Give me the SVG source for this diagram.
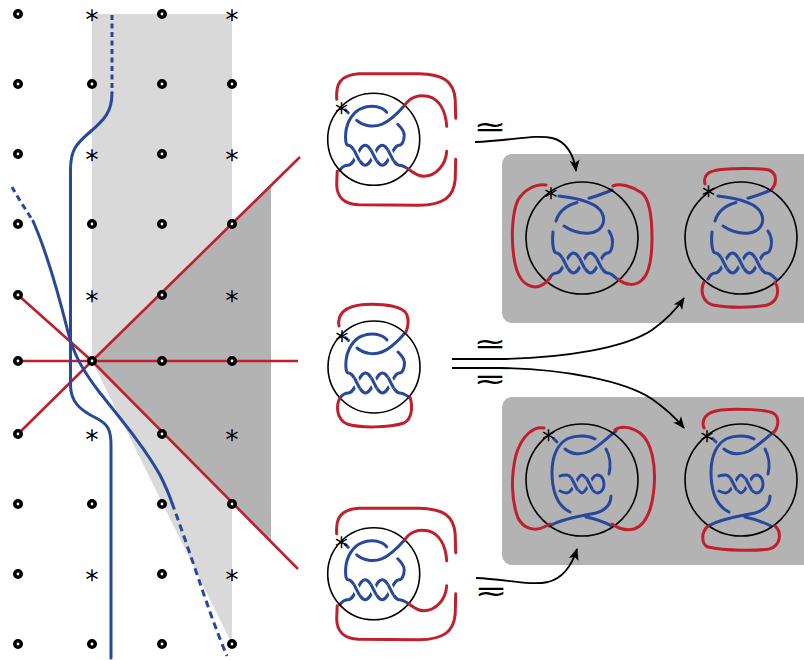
<svg xmlns="http://www.w3.org/2000/svg" width="804" height="660" viewBox="0 0 804 660">
<defs>
<style>
.dot{fill:#fff;stroke:#000;stroke-width:3.6}
.ast{font-family:"DejaVu Sans",sans-serif;font-weight:200;font-size:25px;text-anchor:middle;fill:#000;stroke:#000;stroke-width:0.7}
.sym{font-family:"DejaVu Sans",sans-serif;font-size:27px;text-anchor:middle;fill:#000}
.r{fill:none;stroke:#c0202e;stroke-width:3;stroke-linecap:round}
.rl{fill:none;stroke:#c0202e;stroke-width:2.6}
.b{fill:none;stroke:#27489b;stroke-width:3;stroke-linecap:round}
.bd{fill:none;stroke:#27489b;stroke-width:3}
.bo{fill:none;stroke:#27489b;stroke-width:3}
.h{fill:none;stroke:currentColor;stroke-width:7}
.disk{fill:none;stroke:#000;stroke-width:1.6}
.ar{fill:none;stroke:#000;stroke-width:1.8}
</style>
<marker id="ah" viewBox="-12 -6 13 12" refX="0" refY="0" markerWidth="13" markerHeight="12" markerUnits="userSpaceOnUse" orient="auto">
<path d="M1,0 L-11,-5 L-8,0 L-11,5 Z" fill="#000"/>
</marker>
<g id="t1">
<path class="b" d="M-28.5,-29.5 L-25.5,-26.5"/>
<path class="b" d="M-17,-19 C-10,-13 0,-12 8,-15 C16,-18 24,-26 31,-34"/>
<path class="b" d="M13,-27 C8,-33 -3,-35 -12,-31 C-20,-28 -27,-18 -28,-6 C-28.5,0 -28,6 -25.5,6 C-18.7,6 -15.3,26 -8.5,26 C-1.7,26 1.7,6 8.5,6 C15.3,6 18.7,26 25.5,26 C29,26 32,28 35,30"/>
<path class="b" d="M-34,31 C-32,28 -29,26 -25.5,26 C-18.7,26 -15.3,6 -8.5,6 C-1.7,6 1.7,26 8.5,26 C15.3,26 18.7,6 25.5,6 C28.5,6 30.5,1 30.5,-4 C30.5,-9 27,-12 24,-15"/>
<path class="h" d="M-19.7,10.7 L-14.3,21.3"/><path class="bo" d="M-19.7,10.7 L-14.3,21.3"/>
<path class="h" d="M-2.7,10.7 L2.7,21.3"/><path class="bo" d="M-2.7,10.7 L2.7,21.3"/>
<path class="h" d="M14.3,10.7 L19.7,21.3"/><path class="bo" d="M14.3,10.7 L19.7,21.3"/>
</g>
<g id="t2">
<path class="b" d="M-23,-42 C-6,-40 15,-36 20,-25 C25,-15 18,-6 8,-5 C-2,-4 -12,-8 -18,-12"/>
<path class="b" d="M30,-48 C24,-45.5 15,-42 7,-39.8"/>
<path class="b" d="M-5,-35.5 C-14,-33 -23,-27 -26,-17"/>
<path class="b" d="M-29,-6 C-30,4 -29,15 -25.5,15 C-18.7,15 -15.3,35 -8.5,35 C-1.7,35 1.7,15 8.5,15 C15.3,15 18.7,35 25.5,35 C29,35 32,38 35,41"/>
<path class="b" d="M-33,41 C-31,37 -29,35 -25.5,35 C-18.7,35 -15.3,15 -8.5,15 C-1.7,15 1.7,35 8.5,35 C15.3,35 18.7,15 25.5,15 C28.5,15 30.5,10 30.5,4 C30.5,-1 29,-4 27,-7"/>
<path class="h" d="M-19.7,19.7 L-14.3,30.3"/><path class="bo" d="M-19.7,19.7 L-14.3,30.3"/>
<path class="h" d="M-2.7,19.7 L2.7,30.3"/><path class="bo" d="M-2.7,19.7 L2.7,30.3"/>
<path class="h" d="M14.3,19.7 L19.7,30.3"/><path class="bo" d="M14.3,19.7 L19.7,30.3"/>
</g>
<g id="t3">
<path class="b" d="M-28.5,-41.5 L-25,-38"/>
<path class="b" d="M-17,-31 C-10,-25 0,-25 8,-29 C16,-33 26,-43 34,-49"/>
<path class="b" d="M13,-41 C6,-45 -6,-45 -14,-41.5 C-24,-37 -30,-24 -30,-8 C-30,8 -26,21 -18,28 C-16,30 -14,31 -12,32"/>
<path class="b" d="M24,-31 C28,-24 29,-14 27,-6"/>
<path class="b" d="M-33,46 C-18,38 0,36 14,33 C24,30 29,24 29,16"/>
<path class="b" d="M4,37 C14,39 22,42 30,46"/>
<path class="b" d="M-22,-4 C-20,-5 -17,-5 -15,-5 C-9,-5 -5,13 0,13 C5,13 9,-5 15,-5 C20,-5 22,0 22,4 C22,8 20,13 15,13 C9,13 5,-5 0,-5 C-5,-5 -9,13 -15,13 C-17,13 -20,12 -22,11"/>
<path class="h" d="M-10.6,-2 L-4.4,10"/><path class="bo" d="M-10.6,-2 L-4.4,10"/>
<path class="h" d="M4.4,-2 L10.6,10"/><path class="bo" d="M4.4,-2 L10.6,10"/>
</g>
<g id="clasp">
<path class="r" d="M-37,-40 C-38,-55 -34,-64 -15,-65.5 L45,-65.5 C70,-65 80,-58 81.5,-40 L82,-21"/>
<path class="r" d="M82,20 L81.5,40 C80,58 70,65.5 45,66 L-15,65.5 C-30,65 -37,57 -37,45 L-36.5,32"/>
<path class="r" d="M31,-34 C36,-42 45,-45 54,-43 C66,-40 72,-28 73,-13"/>
<path class="r" d="M73,12 C72,26 62,37 50,37 C44,37 39,33 35,30"/>
</g>
</defs>

<g id="lattice">
<polygon points="92,14 232,14 232,644 92,361" fill="#d9d9d9"/>
<polygon points="92,361 271,185.5 271,541.7" fill="#b3b3b3"/>
<path class="rl" d="M18,295 L92,361 L298,569"/>
<path class="rl" d="M18,434 L92,361 L300,157"/>
<path class="rl" d="M18,361 L298,361"/>
<path class="bd" stroke-dasharray="5 3.5" d="M112,15 L112,93"/>
<path class="b" d="M112,93 C112,112 104,120 90,132 C76,144 70.5,150 70.5,170 L70.5,385 C70.5,402 80,410 96,418 C108,424 111,430 111,445 L111,658"/>
<path class="bd" stroke-dasharray="6 4" d="M12,187 C18,198 26,210 33,221"/>
<path class="b" d="M33,221 C48,255 60,300 68,332 C74,356 84,372 100,393 C120,418 145,448 160,475 C165,485 169,494 172,503"/>
<path class="bd" stroke-dasharray="7 4.5" d="M172,503 C182,530 192,560 200,583 C208,607 218,635 227,656"/>
<g id="points">
<circle class="dot" cx="18" cy="14" r="3.2"/><circle class="dot" cx="162" cy="14" r="3.2"/>
<circle class="dot" cx="18" cy="84" r="3.2"/><circle class="dot" cx="92" cy="84" r="3.2"/><circle class="dot" cx="162" cy="84" r="3.2"/><circle class="dot" cx="232" cy="84" r="3.2"/>
<circle class="dot" cx="18" cy="154" r="3.2"/><circle class="dot" cx="162" cy="154" r="3.2"/>
<circle class="dot" cx="18" cy="224" r="3.2"/><circle class="dot" cx="92" cy="224" r="3.2"/><circle class="dot" cx="162" cy="224" r="3.2"/><circle class="dot" cx="232" cy="224" r="3.2"/>
<circle class="dot" cx="18" cy="295" r="3.2"/><circle class="dot" cx="162" cy="295" r="3.2"/>
<circle class="dot" cx="18" cy="361" r="3.2"/><circle class="dot" cx="92" cy="361" r="3.2"/><circle class="dot" cx="162" cy="361" r="3.2"/><circle class="dot" cx="232" cy="361" r="3.2"/>
<circle class="dot" cx="18" cy="434" r="3.2"/><circle class="dot" cx="162" cy="434" r="3.2"/>
<circle class="dot" cx="18" cy="504" r="3.2"/><circle class="dot" cx="92" cy="504" r="3.2"/><circle class="dot" cx="162" cy="504" r="3.2"/><circle class="dot" cx="232" cy="504" r="3.2"/>
<circle class="dot" cx="18" cy="574" r="3.2"/><circle class="dot" cx="162" cy="574" r="3.2"/>
<circle class="dot" cx="18" cy="644" r="3.2"/><circle class="dot" cx="92" cy="644" r="3.2"/><circle class="dot" cx="162" cy="644" r="3.2"/><circle class="dot" cx="232" cy="644" r="3.2"/>
<text class="ast" x="92" y="22.5">∗</text><text class="ast" x="232" y="22.5">∗</text>
<text class="ast" x="92" y="162.5">∗</text><text class="ast" x="232" y="162.5">∗</text>
<text class="ast" x="92" y="303.5">∗</text><text class="ast" x="232" y="303.5">∗</text>
<text class="ast" x="92" y="442.5">∗</text><text class="ast" x="232" y="442.5">∗</text>
<text class="ast" x="92" y="582.5">∗</text><text class="ast" x="232" y="582.5">∗</text>
</g>
</g>

<g id="knot-top" transform="translate(373.7,139.3)" style="color:#fff">
<use href="#t1"/>
<circle class="disk" r="46"/>
<use href="#clasp"/>
<text class="ast" x="-32" y="-23.5">∗</text>
</g>
<g id="knot-middle" transform="translate(374,367)" style="color:#fff">
<use href="#t1"/>
<circle class="disk" r="46"/>
<path class="r" d="M-35,-41 C-37,-52 -30,-61 -10,-62.5 C10,-63.5 30,-61 33,-52 C35,-46 34,-40 32,-35"/>
<path class="r" d="M-34,31 C-38,38 -38,52 -27,57 C-15,61 15,61 30,56 C38,52 39,40 36,30"/>
<text class="ast" x="-32" y="-23.5">∗</text>
</g>
<g id="knot-bottom" transform="translate(373.7,573.8)" style="color:#fff">
<use href="#t1"/>
<circle class="disk" r="46"/>
<use href="#clasp"/>
<text class="ast" x="-32" y="-23.5">∗</text>
</g>

<g id="box-upper">
<rect x="502" y="154" width="330" height="169" rx="10" fill="#b3b3b3"/>
<g id="knot-ul" transform="translate(582,238)" style="color:#b3b3b3">
<use href="#t2"/>
<circle class="disk" r="56"/>
<path class="r" d="M-36,-53 C-46,-55 -58,-48 -64,-38 C-70,-25 -71,0 -68,20 C-65,40 -58,48 -47,49 C-41,49 -36,45 -32,40"/>
<path class="r" d="M31,-52 C38,-55 50,-52 60,-45 C68,-38 70,-20 70,0 C70,20 68,35 60,42 C54,48 44,48 36,41"/>
<text class="ast" x="-31" y="-37.5">∗</text>
</g>
<g id="knot-ur" transform="translate(741,238)" style="color:#b3b3b3">
<use href="#t2"/>
<circle class="disk" r="56"/>
<path class="r" d="M-36,-54 C-38,-62 -34,-67 -20,-68.5 C-5,-70 20,-70 28,-68 C36,-65 36,-55 31,-49"/>
<path class="r" d="M-37,44 C-41,52 -39,64 -28,67 C-12,70 12,70 26,67 C37,64 39,52 34,44"/>
<text class="ast" x="-32.5" y="-39">∗</text>
</g>
</g>

<g id="box-lower">
<rect x="502" y="397" width="330" height="168" rx="10" fill="#b3b3b3"/>
<g id="knot-ll" transform="translate(582,480)" style="color:#b3b3b3">
<use href="#t3"/>
<circle class="disk" r="56"/>
<path class="r" d="M-38,-52 C-48,-54 -60,-45 -66,-25 C-71,-5 -71,20 -64,38 C-59,48 -48,52 -38,47 C-36,46 -34,45 -32,44"/>
<path class="r" d="M33,-50 C38,-54 48,-54 58,-47 C70,-38 74,-15 72,8 C70,30 64,45 52,49 C44,51 37,49 30,44"/>
<text class="ast" x="-33.5" y="-37">∗</text>
</g>
<g id="knot-lr" transform="translate(741,480)" style="color:#b3b3b3">
<use href="#t3"/>
<circle class="disk" r="56"/>
<path class="r" d="M-37,-52 C-40,-60 -36,-68 -20,-70 C0,-72 25,-70 32,-67 C39,-63 38,-53 32,-47"/>
<path class="r" d="M-33,46 C-40,52 -40,64 -33,67 C-15,71 15,71 28,69 C40,66 41,52 34,46"/>
<text class="ast" x="-34" y="-36">∗</text>
</g>
</g>

<g id="connectors">
<path class="ar" marker-end="url(#ah)" d="M475,142 C510,141 535,134 552,138 C566,141 574,155 576,171"/>
<path class="ar" marker-end="url(#ah)" d="M452,359 L500,359 C565,358 625,348 652,330 C666,320 676,310 684,298"/>
<path class="ar" marker-end="url(#ah)" d="M452,368 L500,368 C565,369 625,381 652,399 C666,409 676,418 684,428"/>
<path class="ar" marker-end="url(#ah)" d="M476,578 C505,579 530,586 548,582 C564,578 572,565 577,549"/>
<text class="sym" transform="translate(490,127) scale(1.45,1)" x="0" y="8.7">≃</text>
<text class="sym" transform="translate(490,344.5) scale(1.45,1)" x="0" y="8.7">≃</text>
<text class="sym" transform="translate(490,380) rotate(180) scale(1.45,1)" x="0" y="8.7">≃</text>
<text class="sym" transform="translate(491,592) rotate(180) scale(1.45,1)" x="0" y="8.7">≃</text>
</g>
</svg>
